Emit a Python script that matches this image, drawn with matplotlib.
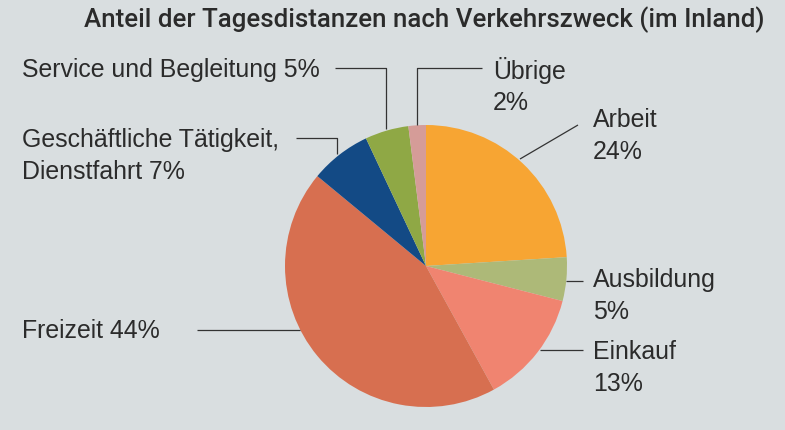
import matplotlib.pyplot as plt

labels = ['Arbeit', 'Ausbildung', 'Einkauf', 'Freizeit',
          'Geschäftliche Tätigkeit, Dienstfahrt', 'Service und Begleitung', 'Übrige']
shares = [24, 5, 13, 44, 7, 5, 2]
colors = ['#f7a533', '#adb978', '#f08470', '#d76f50', '#134a85', '#8fa845', '#d59c98']
title = 'Anteil der Tagesdistanzen nach Verkehrszweck (im Inland)'

W, H = 785, 431
bg = '#d9dee0'
tc = '#2b2b2b'

fig = plt.figure(figsize=(W / 100, H / 100), dpi=100, facecolor=bg)
ax = fig.add_axes([0, 0, 1, 1])
ax.set_xlim(0, W)
ax.set_ylim(0, H)
ax.set_aspect('equal')
ax.axis('off')

# pie centre/radius in pixel coords (y up)
cx, cy, r = 426, H - 267, 141
ax.pie(shares, colors=colors, startangle=90, counterclock=False,
       center=(cx, cy), radius=r, wedgeprops=dict(linewidth=0))
ax.set_xlim(0, W)
ax.set_ylim(0, H)

def Y(y):
    return H - y

lc = '#333333'
lw = 0.9
fs = 17.9
font = 'Liberation Sans'

# leader lines (image coords)
lines = [
    ([520, 578], [160, 126]),
    ([566, 583], [282, 282]),
    ([540, 583], [351, 351]),
    ([197, 300], [331, 331]),
    ([296, 337, 337], [139, 139, 155]),
    ([335, 386, 386], [69, 69, 130]),
    ([417, 417, 482], [126, 69, 69]),
]
for xs, ys in lines:
    ax.plot(xs, [Y(v) for v in ys], color=lc, lw=lw, solid_capstyle='butt')

texts = [
    (593, 136, 'Arbeit\n24%'),
    (593, 296, 'Ausbildung\n5%'),
    (593, 368, 'Einkauf\n13%'),
    (22, 331, 'Freizeit 44%'),
    (22, 156, 'Geschäftliche Tätigkeit,\nDienstfahrt 7%'),
    (22, 70, 'Service und Begleitung 5%'),
    (493, 86, 'Übrige\n2%'),
]
for x, y, s in texts:
    ax.text(x, Y(y), s, ha='left', va='center', fontsize=fs, color=tc,
            family=font, linespacing=1.4)

ax.text(765, Y(20), title, ha='right', va='center', fontsize=18.6,
        color=tc, family='Roboto', fontweight='medium')

fig.savefig('out.png', dpi=100, facecolor=bg)
